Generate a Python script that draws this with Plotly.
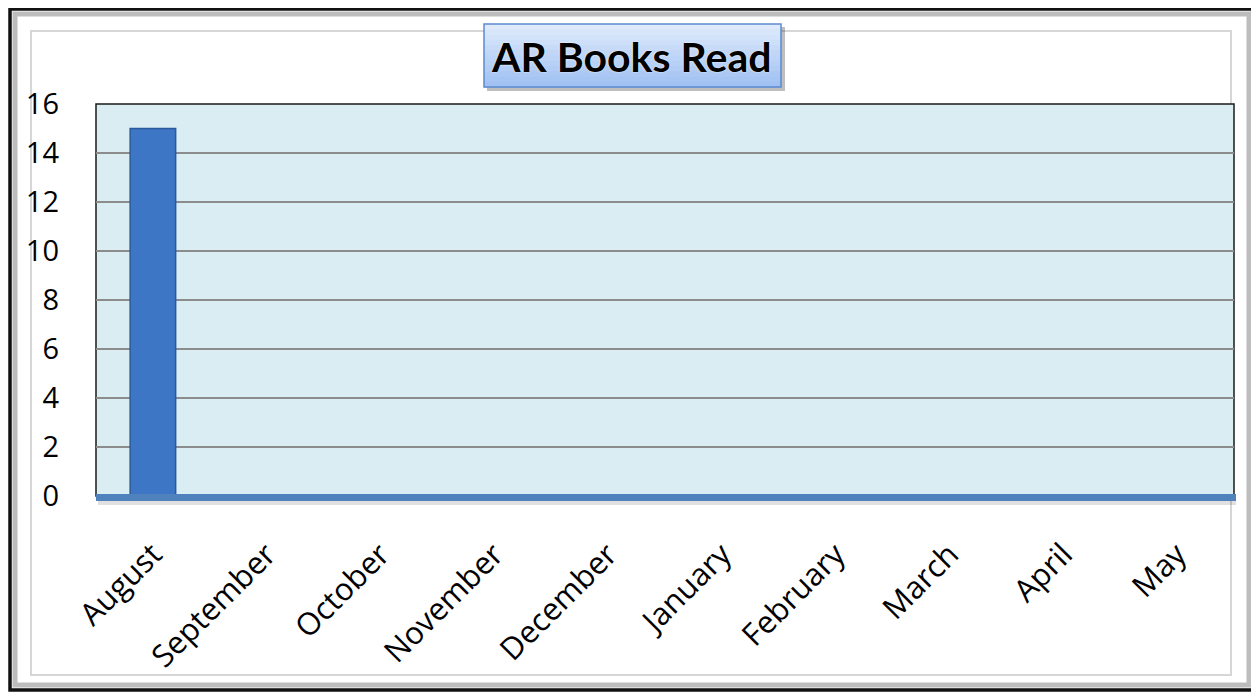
import plotly.graph_objects as go

months = ["August", "September", "October", "November", "December",
          "January", "February", "March", "April", "May"]
books = [15, 0, 0, 0, 0, 0, 0, 0, 0, 0]
y_ticks = [0, 2, 4, 6, 8, 10, 12, 14, 16]
title_text = "AR Books Read"

OFF = 8  # page body margin
W, H = 1259 - OFF, 696 - OFF
L, R, T, B = 96, 1234, 104, 496  # plot area in screenshot pixels


def px(x):
    return (x - L) / (R - L)


def py(y):
    return (B - y) / (B - T)


fig = go.Figure()
fig.add_trace(go.Bar(
    x=months, y=books,
    marker=dict(color="#3D76C4", line=dict(color="#2A5A9C", width=1.5)),
    hoverinfo="x+y",
))

shapes = [
    # outer black frame
    dict(type="rect", xref="paper", yref="paper", x0=px(10), x1=px(1254), y0=py(9), y1=py(690),
         line=dict(color="#111111", width=3.5), fillcolor="rgba(0,0,0,0)", layer="below"),
    dict(type="rect", xref="paper", yref="paper", x0=px(15), x1=px(1249), y0=py(14), y1=py(685),
         line=dict(color="#BDBDBD", width=5), fillcolor="rgba(0,0,0,0)", layer="below"),
    # inner light frame
    dict(type="rect", xref="paper", yref="paper", x0=px(31), x1=px(1231), y0=py(31), y1=py(675),
         line=dict(color="#D6D6D6", width=2), fillcolor="white", layer="below"),
    # plot area background
    dict(type="rect", xref="paper", yref="paper", x0=0, x1=1, y0=0, y1=1,
         line=dict(color="#1A1A1A", width=1.5), fillcolor="#DAEDF3", layer="below"),
    # floor shadow + floor
    dict(type="line", xref="paper", yref="paper", x0=px(98), x1=px(1236), y0=py(503), y1=py(503),
         line=dict(color="rgba(0,0,0,0.12)", width=4), layer="above"),
    dict(type="line", xref="paper", yref="paper", x0=px(96), x1=px(1236), y0=py(497.5), y1=py(497.5),
         line=dict(color="#4F81BD", width=7), layer="above"),
    # title box shadow
    dict(type="rect", xref="paper", yref="paper", x0=px(487), x1=px(785), y0=py(27), y1=py(91),
         line=dict(width=0), fillcolor="rgba(0,0,0,0.25)", layer="above"),
]

# title box vertical gradient (light top -> deeper blue bottom)
top_rgb = (222, 234, 252)
bot_rgb = (160, 193, 242)
nb = 12
y_top, y_bot = 24, 87
for i in range(nb):
    t = i / (nb - 1)
    c = tuple(round(top_rgb[k] + (bot_rgb[k] - top_rgb[k]) * t) for k in range(3))
    ya = y_top + (y_bot - y_top) * i / nb
    yb = y_top + (y_bot - y_top) * (i + 1) / nb
    shapes.append(dict(type="rect", xref="paper", yref="paper", x0=px(484), x1=px(781),
                       y0=py(ya), y1=py(yb + 0.5), line=dict(width=0),
                       fillcolor="rgb(%d,%d,%d)" % c, layer="above"))
shapes.append(dict(type="rect", xref="paper", yref="paper", x0=px(484), x1=px(781),
                   y0=py(y_top), y1=py(y_bot), line=dict(color="#5B8BD0", width=1.5),
                   fillcolor="rgba(0,0,0,0)", layer="above"))

fig.update_layout(
    width=W, height=H,
    margin=dict(l=L - OFF, r=W - (R - OFF), t=T - OFF, b=H - (B - OFF)),
    paper_bgcolor="white",
    plot_bgcolor="rgba(0,0,0,0)",
    showlegend=False,
    bargap=0.6,
    shapes=shapes,
    font=dict(family="Open Sans", color="black"),
    xaxis=dict(
        type="category", tickangle=-45, showgrid=False, showline=False, ticks="",
        tickfont=dict(size=31, family="Open Sans", color="black"),
        ticklabelstandoff=33,
    ),
    yaxis=dict(
        range=[0, 16], tickvals=y_ticks, showgrid=True, gridcolor="#8C8C8C", gridwidth=1.5,
        zeroline=False, showline=False, ticks="",
        tickfont=dict(size=29, family="Open Sans", color="black"),
        ticklabelstandoff=36,
    ),
    annotations=[dict(
        text="<b>" + title_text + "</b>", xref="paper", yref="paper",
        x=px(631), y=py(56), showarrow=False, xanchor="center", yanchor="middle",
        font=dict(size=41, family="Lato", color="black", weight=900,
                  shadow="0px 0px 2px white"),
    )],
)

fig.write_html("out.html")
